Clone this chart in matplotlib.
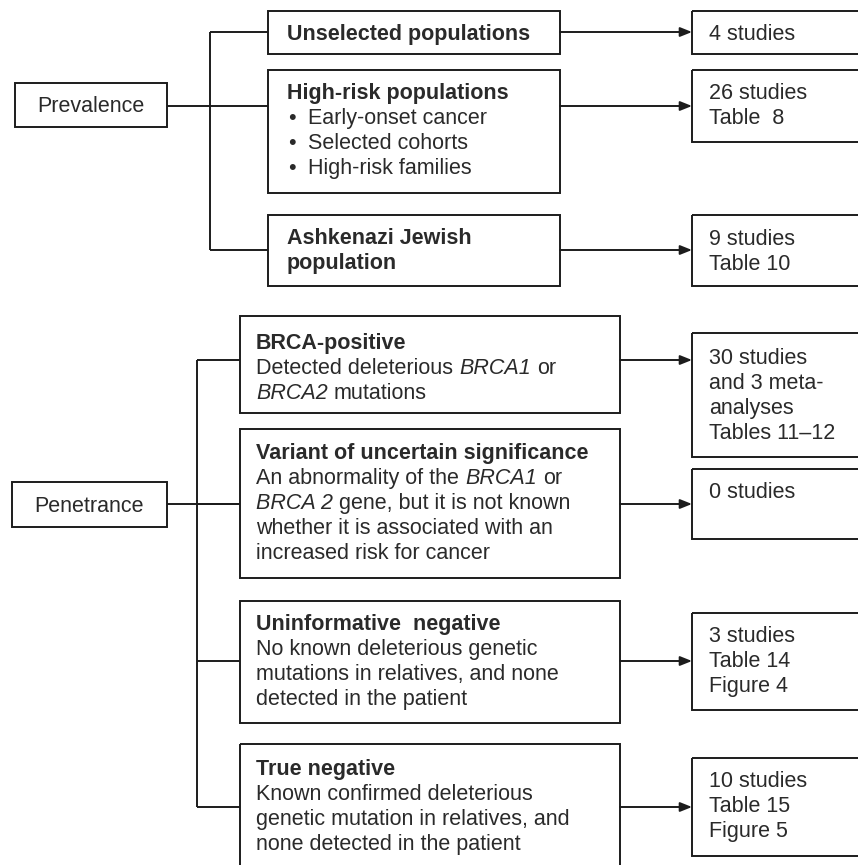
import matplotlib
matplotlib.use("Agg")
import matplotlib.pyplot as plt
from matplotlib.patches import Rectangle

# ---------------- data ----------------
group_labels = ["Prevalence", "Penetrance"]

prev_titles = ["Unselected populations", "High-risk populations", "Ashkenazi Jewish\npopulation"]
prev_bullets = [[], ["Early-onset cancer", "Selected cohorts", "High-risk families"], []]
prev_results = ["4 studies", "26 studies\nTable  8", "9 studies\nTable 10"]

pen_titles = ["BRCA-positive", "Variant of uncertain significance",
              "Uninformative  negative", "True negative"]
# each description line is a list of (text, italic) segments
pen_descs = [
    [[("Detected deleterious ", False), ("BRCA1", True), (" or", False)],
     [("BRCA2", True), (" mutations", False)]],
    [[("An abnormality of the ", False), ("BRCA1", True), (" or", False)],
     [("BRCA 2", True), (" gene, but it is not known", False)],
     [("whether it is associated with an", False)],
     [("increased risk for cancer", False)]],
    [[("No known deleterious genetic", False)],
     [("mutations in relatives, and none", False)],
     [("detected in the patient", False)]],
    [[("Known confirmed deleterious", False)],
     [("genetic mutation in relatives, and", False)],
     [("none detected in the patient", False)]],
]
pen_results = ["30 studies\nand 3 meta-\nanalyses\nTables 11\u201312", "0 studies",
               "3 studies\nTable 14\nFigure 4", "10 studies\nTable 15\nFigure 5"]

# ---------------- layout (pixels) ----------------
W, H = 858, 865
fig = plt.figure(figsize=(W / 100, H / 100), dpi=100)
ax = fig.add_axes([0, 0, 1, 1])
ax.set_xlim(0, W)
ax.set_ylim(H, 0)
ax.axis("off")

FONT = "Liberation Sans"
FS = 15.5
LC = "#1c1c1c"
TC = "#2a2a2a"
LW = 1.4
LH = 25  # line height px
BASE = 7  # baseline offset from line centre

renderer = fig.canvas.get_renderer()


def box(x0, y0, x1, y1):
    ax.add_patch(Rectangle((x0, y0), x1 - x0, y1 - y0, fill=False,
                           edgecolor=LC, linewidth=LW, clip_on=True))


def line(xs, ys):
    ax.plot(xs, ys, color=LC, linewidth=LW, solid_capstyle="butt")


def arrow(x0, x1, y):
    ax.annotate("", xy=(x1, y), xytext=(x0, y),
                arrowprops=dict(arrowstyle="-|>,head_length=0.7,head_width=0.28",
                                color=LC, lw=LW, shrinkA=0, shrinkB=0))


def txt(x, yc, s, bold=False, italic=False):
    t = ax.text(x, yc + BASE, s, fontsize=FS, family=FONT, color=TC,
                fontweight="bold" if bold else "normal",
                fontstyle="italic" if italic else "normal",
                va="baseline", ha="left")
    return t


def width(s, italic=False, bold=False):
    t = ax.text(0, 0, s, fontsize=FS, family=FONT,
                fontstyle="italic" if italic else "normal",
                fontweight="bold" if bold else "normal")
    w = t.get_window_extent(renderer).width
    t.remove()
    return w


SPACE = width("a a") - width("aa")


def seg_line(x, yc, segs):
    cx = x
    for s, it in segs:
        lead = len(s) - len(s.lstrip(" "))
        trail = len(s) - len(s.rstrip(" "))
        core = s.strip(" ")
        cx += lead * SPACE
        t = txt(cx, yc, core, italic=it)
        cx += t.get_window_extent(renderer).width + trail * SPACE


def multiline(x, y_first, s, bold=False):
    for i, ln in enumerate(s.split("\n")):
        txt(x, y_first + i * LH, ln, bold=bold)


# ---------- Prevalence ----------
px0, px1 = 15, 167
py0, py1 = 83, 127
box(px0, py0, px1, py1)
ax.text((px0 + px1) / 2, (py0 + py1) / 2 + BASE, group_labels[0], fontsize=FS,
        family=FONT, color=TC, ha="center", va="baseline")

prev_boxes = [(11, 54), (70, 193), (215, 286)]
prev_arrow_y = [32, 106, 250]
prev_res_boxes = [(11, 54), (70, 142), (215, 286)]
prev_text_y = [33, 92, 237]
prev_res_y = [33, 92, 238]
mx0, mx1 = 268, 560
rx0, rx1 = 692, 870
vx = 210
line([px1, vx], [106, 106])
line([vx, vx], [prev_arrow_y[0], prev_arrow_y[-1]])
for i in range(3):
    y0, y1 = prev_boxes[i]
    box(mx0, y0, mx1, y1)
    line([vx, mx0], [prev_arrow_y[i], prev_arrow_y[i]])
    multiline(287, prev_text_y[i], prev_titles[i], bold=True)
    for j, b in enumerate(prev_bullets[i]):
        yc = prev_text_y[i] + (j + 1) * LH
        txt(288, yc, "\u2022")
        txt(308, yc, b)
    arrow(mx1, rx0, prev_arrow_y[i])
    r0, r1 = prev_res_boxes[i]
    box(rx0, r0, rx1, r1)
    multiline(709, prev_res_y[i], prev_results[i])

# ---------- Penetrance ----------
qx0, qx1 = 12, 167
qy0, qy1 = 482, 527
box(qx0, qy0, qx1, qy1)
ax.text((qx0 + qx1) / 2, (qy0 + qy1) / 2 + BASE, group_labels[1], fontsize=FS,
        family=FONT, color=TC, ha="center", va="baseline")

pen_boxes = [(316, 413), (429, 578), (601, 723), (744, 880)]
pen_arrow_y = [360, 504, 661, 807]
pen_res_boxes = [(333, 457), (469, 539), (613, 710), (758, 856)]
pen_text_y = [342, 452, 623, 768]
pen_res_y = [357, 491, 635, 780]
nx0, nx1 = 240, 620
vx2 = 197
line([qx1, nx0], [504, 504])
line([vx2, vx2], [pen_arrow_y[0], pen_arrow_y[-1]])
for i in range(4):
    y0, y1 = pen_boxes[i]
    box(nx0, y0, nx1, y1)
    line([vx2, nx0], [pen_arrow_y[i], pen_arrow_y[i]])
    txt(256, pen_text_y[i], pen_titles[i], bold=True)
    for j, segs in enumerate(pen_descs[i]):
        seg_line(256, pen_text_y[i] + (j + 1) * LH, segs)
    arrow(nx1, rx0, pen_arrow_y[i])
    r0, r1 = pen_res_boxes[i]
    box(rx0, r0, rx1, r1)
    multiline(709, pen_res_y[i], pen_results[i])

fig.savefig("out.png", dpi=100, facecolor="white")
